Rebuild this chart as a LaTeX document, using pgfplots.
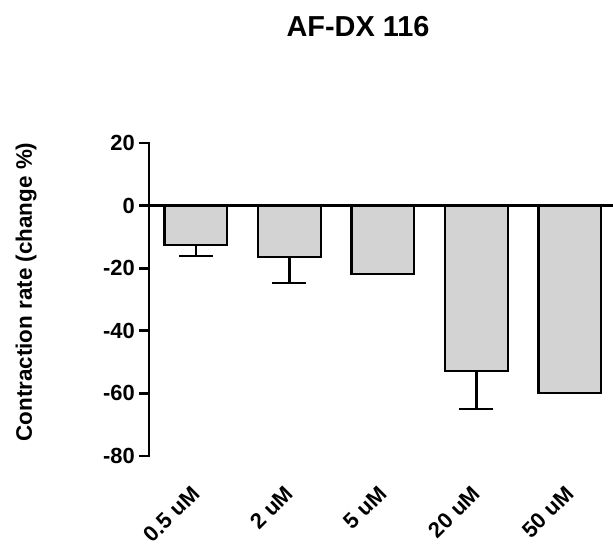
\documentclass[border=0pt]{standalone}
\usepackage{pgfplots}
\pgfplotsset{compat=1.18}
\usepackage{fontspec}
\setmainfont{Liberation Sans}
\definecolor{barfill}{RGB}{211,211,211}

\begin{document}
\begin{tikzpicture}
\begin{axis}[
  scale only axis,
  width=464bp, height=313bp,
  xmin=-0.5, xmax=4.46,
  ymin=-80, ymax=20,
  axis y line*=left,
  axis x line*=bottom,
  x axis line style={draw=none},
  y axis line style={line width=2.8bp, shorten <=-1.4bp, shorten >=-1.4bp},
  ytick={-80,-60,-40,-20,0,20},
  tick align=outside,
  y tick style={line width=2.8bp, black},
  x tick style={draw=none},
  major tick length=10bp,
  xtick={0,1,2,3,4},
  xticklabels={0.5 uM, 2 uM, 5 uM, 20 uM, 50 uM},
  /pgf/number format/assume math mode=true,
  ticklabel style={font=\fontsize{22}{25}\selectfont\bfseries},
  yticklabel style={inner sep=0pt, xshift=-4bp},
  xticklabel style={yshift=-24bp, rotate=45, anchor=east, inner sep=0pt},
  ylabel={Contraction rate (change \%)},
  ylabel style={font=\fontsize{22.5}{26}\selectfont\bfseries,
    at={(axis description cs:-0.265,0.524)}, anchor=center},
  clip=false,
]
\addplot[ybar, bar width=0.67, fill=barfill, draw=black, line width=2.3bp,
  error bars/.cd, y dir=minus, y explicit,
  error bar style={line width=2.5bp, black},
  error mark options={rotate=90, mark size=17bp, line width=2.5bp, black}]
  table[x=x, y=y, y error=e] {
x y e
0 -12.7 3.4
1 -16.5 8.2
2 -21.9 0
3 -52.8 12.2
4 -59.9 0
};
% baseline at zero
\addplot[black, line width=2.8bp, forget plot] coordinates {(-0.5,0) (4.46,0)};
\end{axis}
\node[anchor=base, font=\fontsize{29}{34}\selectfont\bfseries]
  at ([xshift=209bp, yshift=419bp]current axis.south west) {AF-DX 116};
\pgfresetboundingbox
\path ([xshift=-149bp, yshift=-94bp]current axis.south west)
  rectangle ([xshift=464bp, yshift=456bp]current axis.south west);
\end{tikzpicture}
\end{document}
